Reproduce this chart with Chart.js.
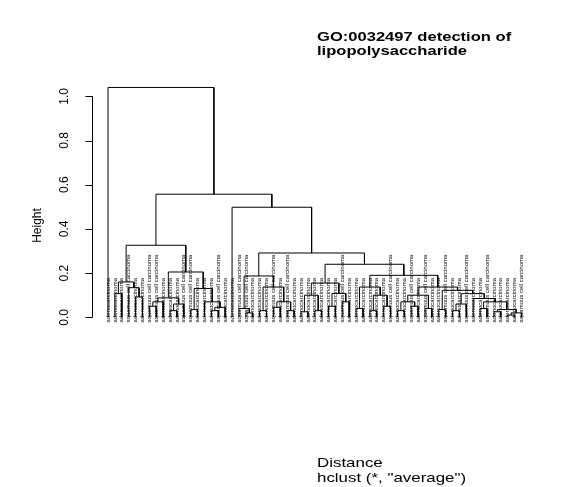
<!DOCTYPE html>
<html>
<head>
<meta charset="utf-8">
<script src="https://cdn.jsdelivr.net/npm/chart.js@4.4.1/dist/chart.umd.min.js"></script>
<style>
  html, body { margin: 0; padding: 0; background: #fff; }
  #wrap { width: 583px; height: 487px; }
</style>
</head>
<body>
<div id="wrap"><canvas id="dendro"></canvas></div>
<script>
// leaves in plotted order (left to right)
var leafLabels = [
  "adenocarcinoma", "adenocarcinoma", "adenocarcinoma", "squamous cell carcinoma", "adenocarcinoma",
  "adenocarcinoma", "squamous cell carcinoma", "squamous cell carcinoma", "adenocarcinoma", "adenocarcinoma",
  "adenocarcinoma", "squamous cell carcinoma", "squamous cell carcinoma", "adenocarcinoma", "adenocarcinoma",
  "adenocarcinoma", "squamous cell carcinoma", "adenocarcinoma", "adenocarcinoma", "squamous cell carcinoma",
  "squamous cell carcinoma", "adenocarcinoma", "adenocarcinoma", "adenocarcinoma", "squamous cell carcinoma",
  "adenocarcinoma", "squamous cell carcinoma", "adenocarcinoma", "adenocarcinoma", "adenocarcinoma",
  "adenocarcinoma", "adenocarcinoma", "adenocarcinoma", "adenocarcinoma", "squamous cell carcinoma",
  "adenocarcinoma", "adenocarcinoma", "adenocarcinoma", "adenocarcinoma", "adenocarcinoma",
  "adenocarcinoma", "squamous cell carcinoma", "adenocarcinoma", "adenocarcinoma", "squamous cell carcinoma",
  "adenocarcinoma", "squamous cell carcinoma", "adenocarcinoma", "adenocarcinoma", "squamous cell carcinoma",
  "adenocarcinoma", "adenocarcinoma", "squamous cell carcinoma", "adenocarcinoma", "adenocarcinoma",
  "squamous cell carcinoma", "adenocarcinoma", "adenocarcinoma", "adenocarcinoma", "adenocarcinoma",
  "squamous cell carcinoma"
]

// hclust style merge table: negative = leaf position, positive = earlier merge row
var mergeLeft = [-2, -5, -4, 1, -7, 5, -10, 7, 6, -13, -16, 11, -15, 10, 9, 4, -21, -20, -23, -25,
  -27, 20, 19, 18, -29, -31, 25, -33, -35, 28, 27, -37, -39, -41, 33, 32, -43, -45, 37, -47,
  39, -49, -51, 43, -59, 45, -57, 47, -55, 49, -54, 44, 42, 41, 36, 31, 24, -19, 16, -1]
var mergeRight = [-3, -6, 2, 3, -8, -9, -11, -12, 8, -14, -17, -18, 12, 13, 14, 15, -22, 17, -24, -26,
  -28, 21, 22, 23, -30, -32, 26, -34, -36, 29, 30, -38, -40, -42, 34, 35, -44, -46, 38, -48,
  40, -50, -52, -53, -60, -61, -58, 46, -56, 48, 50, 51, 52, 53, 54, 55, 56, 57, 58, 59]
var mergeHeight = [0.107, 0.092, 0.134, 0.16, 0.05, 0.07, 0.03, 0.06, 0.088, 0.035, 0.03, 0.045, 0.07, 0.13, 0.205, 0.326,
  0.02, 0.04, 0.03, 0.045, 0.03, 0.07, 0.137, 0.187, 0.025, 0.03, 0.10, 0.05, 0.07, 0.108, 0.155,
  0.04, 0.03, 0.05, 0.10, 0.137, 0.03, 0.05, 0.07, 0.04, 0.10, 0.035, 0.03, 0.06, 0.01, 0.02, 0.025,
  0.035, 0.04, 0.07, 0.085, 0.107, 0.122, 0.137, 0.19, 0.24, 0.291, 0.498, 0.557, 1.04]

var yTicks = [0, 0.2, 0.4, 0.6, 0.8, 1.0]

var n = leafLabels.length
var labelStart = -0.023

// node positions: leaf k sits at x = k, a merge at the middle of its two children
var nodeX = []
function childX(c) { return c < 0 ? -c : nodeX[c - 1] }
function childH(c) { return c < 0 ? 0 : mergeHeight[c - 1] }

var segs = []
for (var i = 0; i < mergeHeight.length; i++) {
  var a = mergeLeft[i], b = mergeRight[i], h = mergeHeight[i]
  nodeX[i] = (childX(a) + childX(b)) / 2
  segs.push({ x: childX(a), y: childH(a) })
  segs.push({ x: childX(a), y: h })
  segs.push({ x: childX(b), y: h })
  segs.push({ x: childX(b), y: childH(b) })
  segs.push({ x: childX(b), y: null })
}

function stretchText(ctx, text, x, y, sx) {
  ctx.save()
  ctx.translate(x, y)
  ctx.scale(sx, 1)
  ctx.fillText(text, 0, 0)
  ctx.restore()
}

var decorations = {
  id: "decorations",
  afterDraw: function (chart) {
    var ctx = chart.ctx
    var xs = chart.scales.x
    var ys = chart.scales.y
    ctx.save()
    ctx.fillStyle = "#000"
    ctx.strokeStyle = "#000"
    ctx.lineWidth = 1

    // leaf labels, read bottom to top
    ctx.font = '6px "Liberation Sans", Arial, sans-serif'
    ctx.textAlign = "left"
    ctx.textBaseline = "middle"
    leafLabels.forEach(function (lab, k) {
      ctx.save()
      ctx.translate(xs.getPixelForValue(k + 1), ys.getPixelForValue(labelStart))
      ctx.rotate(-Math.PI / 2)
      ctx.fillText(lab, 0, 0)
      ctx.restore()
    })

    // y axis
    var ax = Math.round(chart.chartArea.left) + 0.5
    ctx.beginPath()
    ctx.moveTo(ax, ys.getPixelForValue(0))
    ctx.lineTo(ax, ys.getPixelForValue(1))
    yTicks.forEach(function (v) {
      var py = Math.round(ys.getPixelForValue(v)) + 0.5
      ctx.moveTo(ax, py)
      ctx.lineTo(ax - 7, py)
    })
    ctx.stroke()

    ctx.font = '12px "Liberation Sans", Arial, sans-serif'
    ctx.textAlign = "center"
    yTicks.forEach(function (v) {
      ctx.save()
      ctx.translate(ax - 28, ys.getPixelForValue(v))
      ctx.rotate(-Math.PI / 2)
      ctx.fillText(v.toFixed(1), 0, 0)
      ctx.restore()
    })
    ctx.save()
    ctx.translate(38, 225.5)
    ctx.rotate(-Math.PI / 2)
    ctx.fillText("Height", 0, 0)
    ctx.restore()

    // title and x label
    ctx.textAlign = "left"
    ctx.textBaseline = "alphabetic"
    ctx.font = 'bold 12px "Liberation Sans", Arial, sans-serif'
    stretchText(ctx, "GO:0032497 detection of", 317, 41, 1.38)
    stretchText(ctx, "lipopolysaccharide", 317, 54.5, 1.38)
    ctx.font = '13px "Liberation Sans", Arial, sans-serif'
    stretchText(ctx, "Distance", 317, 467, 1.3)
    stretchText(ctx, 'hclust (*, "average")', 317, 482, 1.3)
    ctx.restore()
  }
}

var ctx = document.getElementById("dendro").getContext("2d")
var dendroChart = new Chart(ctx, {
  type: "line",
  data: {
    datasets: [
      {
        data: segs,
        borderColor: "#000",
        borderWidth: 1,
        pointRadius: 0,
        tension: 0,
        fill: false,
        spanGaps: false,
      },
    ],
  },
  options: {
    responsive: true,
    maintainAspectRatio: false,
    animation: false,
    events: [],
    layout: {
      padding: { left: 91.5, right: 45, top: 74.2, bottom: 147.6 },
    },
    scales: {
      x: { type: "linear", min: 1 - 0.04 * (n - 1), max: n + 0.04 * (n - 1), display: false },
      y: { type: "linear", min: -0.1, max: 1.1, display: false },
    },
    plugins: {
      legend: { display: false },
      tooltip: { enabled: false },
    },
  },
  plugins: [decorations],
})
</script>
</body>
</html>
